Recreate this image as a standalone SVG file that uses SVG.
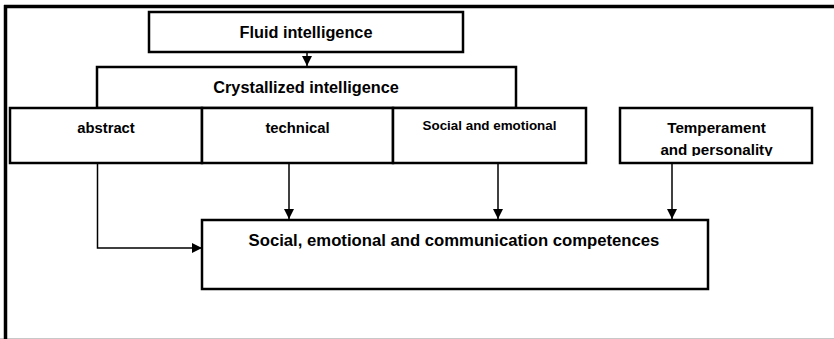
<svg xmlns="http://www.w3.org/2000/svg" width="834" height="339" viewBox="0 0 834 339">
<style>
.box{fill:#fff;stroke:#000;stroke-width:2.5}
.t{font-family:"Liberation Sans",Arial,sans-serif;font-weight:bold;fill:#000;text-anchor:middle}
.c{fill:none;stroke:#000;stroke-width:1.5}
</style>
<defs>
<marker id="ah" viewBox="0 0 10 10" refX="10" refY="5" markerWidth="10" markerHeight="10" markerUnits="userSpaceOnUse" orient="auto">
<path d="M0,0 L10,5 L0,10 Z" fill="#000"/>
</marker>
<clipPath id="tpclip"><rect x="620" y="108" width="192" height="48"/></clipPath>
</defs>
<rect x="0" y="0" width="834" height="339" fill="#fff"/>
<g id="frame">
<line x1="0" y1="338.5" x2="834" y2="338.5" stroke="#c8c8c8" stroke-width="1"/>
<line x1="4" y1="6.5" x2="834" y2="6.5" stroke="#000" stroke-width="3.5"/>
<line x1="5.5" y1="5" x2="5.5" y2="339" stroke="#000" stroke-width="3.5"/>
</g>
<g id="connectors">
<line class="c" x1="307" y1="52" x2="307" y2="66" marker-end="url(#ah)"/>
<polyline class="c" points="97.5,163 97.5,248 202,248" marker-end="url(#ah)"/>
<line class="c" x1="289" y1="163" x2="289" y2="219" marker-end="url(#ah)"/>
<line class="c" x1="498" y1="163" x2="498" y2="219" marker-end="url(#ah)"/>
<line class="c" x1="672" y1="163" x2="672" y2="219" marker-end="url(#ah)"/>
</g>
<g id="fluid">
<rect class="box" x="149" y="12" width="314" height="40"/>
<text class="t" x="306" y="38" font-size="16.3">Fluid intelligence</text>
</g>
<g id="crystallized">
<rect class="box" x="97" y="67" width="419" height="41"/>
<text class="t" x="306" y="93" font-size="16.3">Crystallized intelligence</text>
</g>
<g id="abstract">
<rect class="box" x="10" y="108" width="192" height="55"/>
<text class="t" x="106" y="133" font-size="14.8">abstract</text>
</g>
<g id="technical">
<rect class="box" x="202" y="108" width="191" height="55"/>
<text class="t" x="297.5" y="133" font-size="14.8">technical</text>
</g>
<g id="social">
<rect class="box" x="393" y="108" width="193" height="55"/>
<text class="t" x="489.5" y="129.5" font-size="13.4">Social and emotional</text>
</g>
<g id="temperament">
<rect class="box" x="620" y="108" width="192" height="55"/>
<g clip-path="url(#tpclip)">
<text class="t" x="716.5" y="133" font-size="15.2">Temperament</text>
<text class="t" x="716.5" y="155" font-size="15.2">and personality</text>
</g>
</g>
<g id="competences">
<rect class="box" x="202" y="220" width="506" height="69"/>
<text class="t" x="454" y="246" font-size="16.7">Social, emotional and communication competences</text>
</g>
</svg>
